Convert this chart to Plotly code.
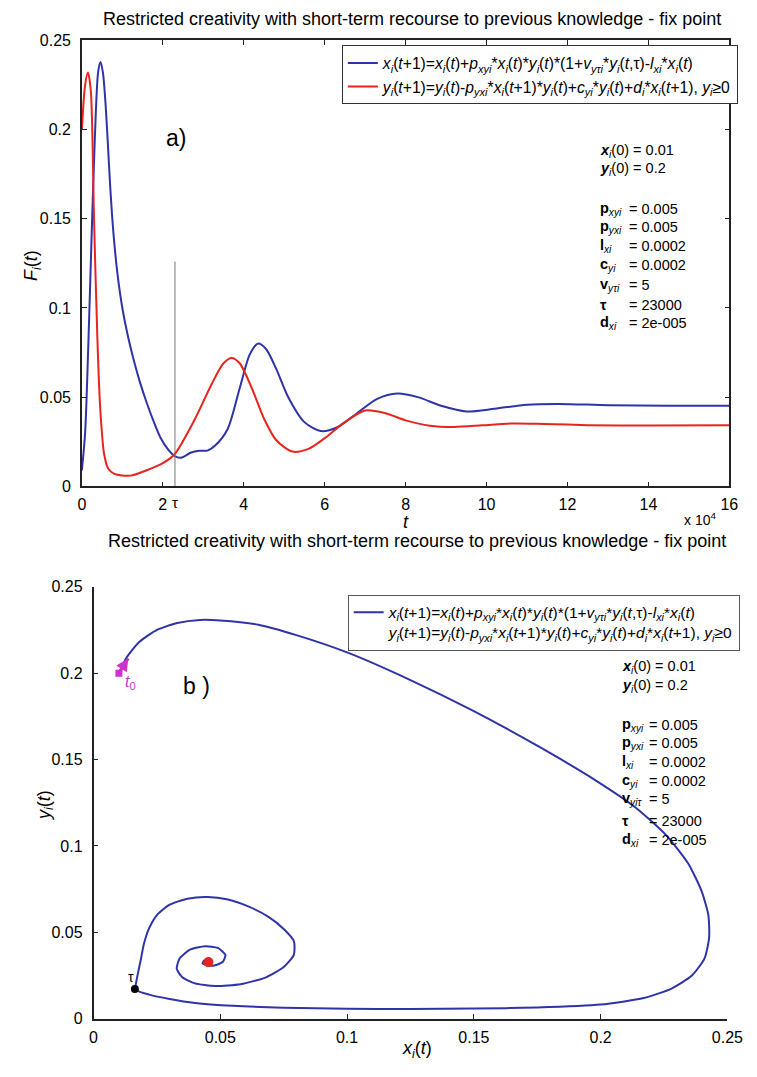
import plotly.graph_objects as go

W, H = 757, 1077
FONT = "Arial, Liberation Sans, sans-serif"

# ---------------- data: panel a) time series (t in units of 1e4) ----------------
t_blue = [0, 0.08, 0.16, 0.24, 0.32, 0.4, 0.46, 0.52, 0.58, 0.64, 0.7, 0.78, 0.88, 1.0, 1.14,
          1.28, 1.44, 1.6, 1.78, 1.95, 2.12, 2.29, 2.45, 2.7, 2.9, 3.1, 3.3, 3.6, 3.9, 4.15,
          4.35, 4.55, 4.8, 5.1, 5.5, 5.9, 6.3, 6.8, 7.3, 7.8, 8.3, 8.9, 9.5, 10.2, 11.0, 11.8,
          13.0, 14.5, 16.0]
x_blue = [0.009, 0.03, 0.08, 0.14, 0.195, 0.232, 0.238, 0.232, 0.216, 0.193, 0.168, 0.142,
          0.119, 0.1, 0.084, 0.071, 0.058, 0.047, 0.036, 0.027, 0.021, 0.017, 0.016, 0.019,
          0.02, 0.02, 0.023, 0.032, 0.055, 0.074, 0.08, 0.077, 0.066, 0.05, 0.036, 0.031,
          0.033, 0.041, 0.049, 0.052, 0.05, 0.045, 0.042, 0.0435, 0.0458, 0.0462, 0.0455,
          0.0452, 0.0452]

t_red = [0, 0.08, 0.15, 0.22, 0.3, 0.38, 0.45, 0.55, 0.65, 0.8, 1.2, 1.6, 2.0, 2.29, 2.8, 3.2,
         3.5, 3.7, 3.9, 4.2, 4.5, 4.8, 5.2, 5.6, 6.0, 6.5, 7.0, 7.5, 8.0, 8.6, 9.2, 9.9, 10.6,
         11.4, 12.5, 14.0, 16.0]
y_red = [0.2, 0.225, 0.232, 0.222, 0.15, 0.085, 0.045, 0.018, 0.01, 0.007, 0.006, 0.009, 0.013,
         0.018, 0.038, 0.057, 0.069, 0.072, 0.069, 0.055, 0.038, 0.026, 0.0195, 0.021, 0.027,
         0.036, 0.0425, 0.041, 0.037, 0.034, 0.0333, 0.0342, 0.0352, 0.035, 0.0343, 0.0341,
         0.0342]

tau = 2.3            # x 1e4
tau_line_top = 0.126

x_ticks_a = [0, 2, 4, 6, 8, 10, 12, 14, 16]
y_ticks = [0, 0.05, 0.1, 0.15, 0.2, 0.25]
y_ticktext = ["0", "0.05", "0.1", "0.15", "0.2", "0.25"]
x_ticks_b = [0, 0.05, 0.1, 0.15, 0.2, 0.25]
x_ticktext_b = ["0", "0.05", "0.1", "0.15", "0.2", "0.25"]

# ---------------- data: panel b) phase trajectory ----------------
phase_x = [0.01, 0.013, 0.018, 0.025, 0.033, 0.042, 0.05, 0.065, 0.08, 0.1, 0.125, 0.15, 0.175,
           0.198, 0.214, 0.226, 0.2345, 0.2398, 0.2425, 0.2428, 0.241, 0.236, 0.228, 0.217,
           0.2, 0.175, 0.15, 0.125, 0.1, 0.075, 0.055, 0.04, 0.03, 0.022, 0.0165, 0.0168,
           0.0176, 0.0186, 0.0198, 0.0218, 0.025, 0.03, 0.037, 0.045, 0.053, 0.061, 0.069,
           0.075, 0.079, 0.079, 0.075, 0.068, 0.058, 0.048, 0.04, 0.035, 0.0328, 0.034, 0.038,
           0.044, 0.049, 0.052, 0.051, 0.048, 0.045, 0.043, 0.0435, 0.0455, 0.046, 0.0453]
phase_y = [0.2, 0.209, 0.218, 0.225, 0.229, 0.2308, 0.2305, 0.228, 0.222, 0.212, 0.196, 0.178,
           0.158, 0.138, 0.122, 0.106, 0.09, 0.074, 0.06, 0.047, 0.035, 0.025, 0.0175, 0.012,
           0.0082, 0.0065, 0.0059, 0.0057, 0.0058, 0.0064, 0.0075, 0.0092, 0.0115, 0.014,
           0.017, 0.021, 0.027, 0.034, 0.043, 0.052, 0.06, 0.066, 0.0695, 0.0705, 0.069, 0.065,
           0.059, 0.052, 0.045, 0.037, 0.03, 0.024, 0.02, 0.019, 0.0205, 0.024, 0.029, 0.035,
           0.04, 0.042, 0.041, 0.037, 0.033, 0.031, 0.0308, 0.032, 0.0335, 0.0338, 0.033,
           0.0328]

start_pt = [0.01, 0.2]
start_dir = [0.0137, 0.2085]
tau_pt = [0.0163, 0.0172]
fix_pt = [0.0453, 0.0328]

# parameter list
par_sym = ["p", "p", "l", "c", "v", "τ", "d"]
par_sub_a = ["xyi", "yxi", "xi", "yi", "yτi", "", "xi"]
par_sub_b = ["xyi", "yxi", "xi", "yi", "yiτ", "", "xi"]
par_val = ["0.005", "0.005", "0.0002", "0.0002", "5", "23000", "2e-005"]
x0_txt = "0.01"
y0_txt = "0.2"

title_txt = "Restricted creativity with short-term recourse to previous knowledge - fix point"
leg_x = ("<i>x</i><sub><i>i</i></sub>(<i>t</i>+1)=<i>x</i><sub><i>i</i></sub>(<i>t</i>)+"
         "<i>p</i><sub><i>xyi</i></sub>*<i>x</i><sub><i>i</i></sub>(<i>t</i>)*"
         "<i>y</i><sub><i>i</i></sub>(<i>t</i>)*(1+<i>v</i><sub><i>yτi</i></sub>*"
         "<i>y</i><sub><i>i</i></sub>(<i>t</i>,τ)-<i>l</i><sub><i>xi</i></sub>*"
         "<i>x</i><sub><i>i</i></sub>(<i>t</i>)")
leg_y = ("<i>y</i><sub><i>i</i></sub>(<i>t</i>+1)=<i>y</i><sub><i>i</i></sub>(<i>t</i>)-"
         "<i>p</i><sub><i>yxi</i></sub>*<i>x</i><sub><i>i</i></sub>(<i>t</i>+1)*"
         "<i>y</i><sub><i>i</i></sub>(<i>t</i>)+<i>c</i><sub><i>yi</i></sub>*"
         "<i>y</i><sub><i>i</i></sub>(<i>t</i>)+<i>d</i><sub><i>i</i></sub>*"
         "<i>x</i><sub><i>i</i></sub>(<i>t</i>+1), <i>y</i><sub><i>i</i></sub>≥0")

BLUE = "#2f33a8"
RED = "#e8241f"
MAG = "#cc33cc"


def px(x):
    return x / W


def py(y):
    return 1 - y / H


def note(x, y, text, size, xanchor="center", angle=0, color="black"):
    return dict(x=px(x), y=py(y), xref="paper", yref="paper", text=text,
                xanchor=xanchor, yanchor="middle", textangle=angle, showarrow=False,
                font=dict(size=size, family=FONT, color=color))


fig = go.Figure()

# panel a
fig.add_trace(go.Scatter(x=t_blue, y=x_blue, mode="lines", name=leg_x,
                         line=dict(color=BLUE, width=2, shape="spline", smoothing=0.8),
                         xaxis="x", yaxis="y", legend="legend"))
fig.add_trace(go.Scatter(x=t_red, y=y_red, mode="lines", name=leg_y,
                         line=dict(color=RED, width=2, shape="spline", smoothing=0.8),
                         xaxis="x", yaxis="y", legend="legend"))
fig.add_trace(go.Scatter(x=[tau, tau], y=[0, tau_line_top], mode="lines",
                         line=dict(color="#777777", width=1), showlegend=False,
                         xaxis="x", yaxis="y"))

# panel b
fig.add_trace(go.Scatter(x=phase_x, y=phase_y, mode="lines",
                         name=leg_x + "<br>" + leg_y,
                         line=dict(color=BLUE, width=2, shape="spline", smoothing=0.6),
                         xaxis="x2", yaxis="y2", legend="legend2"))
fig.add_trace(go.Scatter(x=[start_pt[0], start_dir[0]], y=[start_pt[1], start_dir[1]],
                         mode="lines", line=dict(color=MAG, width=3), showlegend=False,
                         xaxis="x2", yaxis="y2"))
fig.add_trace(go.Scatter(x=[start_pt[0]], y=[start_pt[1]], mode="markers",
                         marker=dict(symbol="square", size=7, color=MAG), showlegend=False,
                         xaxis="x2", yaxis="y2"))
fig.add_trace(go.Scatter(x=[tau_pt[0]], y=[tau_pt[1]], mode="markers",
                         marker=dict(size=8, color="black"), showlegend=False,
                         xaxis="x2", yaxis="y2"))
fig.add_trace(go.Scatter(x=[fix_pt[0]], y=[fix_pt[1]], mode="markers",
                         marker=dict(size=10, color=RED), showlegend=False,
                         xaxis="x2", yaxis="y2"))

ann = []
# arrow head for t0
ann.append(dict(x=start_dir[0], y=start_dir[1], ax=start_pt[0], ay=start_pt[1],
                xref="x2", yref="y2", axref="x2", ayref="y2", showarrow=True,
                arrowhead=2, arrowsize=1, arrowwidth=2.5, arrowcolor=MAG, text=""))
ann.append(dict(x=start_pt[0], y=start_pt[1], xref="x2", yref="y2", text="<i>t</i><sub>0</sub>",
                showarrow=False, xanchor="left", yanchor="top", xshift=4, yshift=2,
                font=dict(size=16, color=MAG, family=FONT)))
ann.append(dict(x=tau_pt[0], y=tau_pt[1], xref="x2", yref="y2", text="τ",
                showarrow=False, xanchor="right", yanchor="bottom", xshift=1, yshift=2,
                font=dict(size=14, color="black", family=FONT)))
ann.append(dict(x=tau, y=0, xref="x", yref="y", text="τ", showarrow=False,
                xanchor="center", yanchor="top", yshift=-6,
                font=dict(size=15, family=FONT, color="black")))

# titles
ann.append(note(419, 11, title_txt, 18))
ann.append(note(424, 542, title_txt, 18))
# axis labels
ann.append(note(413, 522, "<i>t</i>", 18))
ann.append(note(30, 262, "<i>F</i><sub><i>i</i></sub>(<i>t</i>)", 18, angle=-90))
ann.append(note(715, 519, "x 10<sup>4</sup>", 14))
ann.append(note(424, 1058, "<i>x</i><sub><i>i</i></sub>(<i>t</i>)", 18))
ann.append(note(42, 810, "<i>y</i><sub><i>i</i></sub>(<i>t</i>)", 18, angle=-90))
# panel tags
ann.append(note(164, 132, "a)", 23, xanchor="left"))
ann.append(note(182, 689, "b )", 23, xanchor="left"))


# parameter blocks
def add_params(x_lab, x_eq, y_x0, y_pars, subs):
    s = 14.5
    ann.append(note(x_lab, y_x0[0], "<b><i>x</i></b><sub><i>i</i></sub>(0) = " + x0_txt, s,
                    xanchor="left"))
    ann.append(note(x_lab, y_x0[1], "<b><i>y</i></b><sub><i>i</i></sub>(0) = " + y0_txt, s,
                    xanchor="left"))
    for i, (sym, sb, v) in enumerate(zip(par_sym, subs, par_val)):
        yy = y_pars[i]
        lab = "<b>" + sym + "</b>" + ("<sub><i>" + sb + "</i></sub>" if sb else "")
        ann.append(note(x_lab, yy, lab, s, xanchor="left"))
        ann.append(note(x_eq, yy, "= " + v, s, xanchor="left"))


add_params(610, 640, [145, 164], [204, 223, 242, 261, 281, 302, 320], par_sub_a)
add_params(633, 660, [670, 689], [728, 747, 766, 785, 804, 826, 845], par_sub_b)

axis_common = dict(showgrid=False, zeroline=False, showline=True, linecolor="#222222",
                   linewidth=1.5, ticks="inside", ticklen=5, tickcolor="#222222",
                   tickfont=dict(size=16, family=FONT, color="black"))

fig.update_layout(
    width=W, height=H,
    margin=dict(l=0, r=0, t=0, b=0),
    paper_bgcolor="white", plot_bgcolor="white",
    showlegend=True,
    xaxis=dict(domain=[px(80), px(745)], range=[0, 16], tickvals=x_ticks_a,
               mirror="ticks", anchor="y", ticklabelstandoff=3, **axis_common),
    yaxis=dict(domain=[py(486), py(33)], range=[0, 0.25], tickvals=y_ticks,
               ticktext=y_ticktext, mirror="ticks", anchor="x", ticklabelstandoff=6,
               **axis_common),
    xaxis2=dict(domain=[px(92), px(743)], range=[0, 0.25], tickvals=x_ticks_b,
                ticktext=x_ticktext_b, anchor="y2", ticklabelstandoff=3, **axis_common),
    yaxis2=dict(domain=[py(1027), py(588)], range=[0, 0.25], tickvals=y_ticks,
                ticktext=y_ticktext, anchor="x2", ticklabelstandoff=6, **axis_common),
    legend=dict(x=px(347), y=py(38), xanchor="left", yanchor="top",
                bgcolor="white", bordercolor="#333333", borderwidth=1,
                font=dict(size=15.7, family=FONT, color="black"),
                itemwidth=30, tracegroupgap=0),
    legend2=dict(x=px(353), y=py(596), xanchor="left", yanchor="top",
                 bgcolor="white", bordercolor="#555555", borderwidth=1, valign="top",
                 font=dict(size=15.5, family=FONT, color="black"), itemwidth=30),
    annotations=ann,
)

fig.write_html("out.html")
